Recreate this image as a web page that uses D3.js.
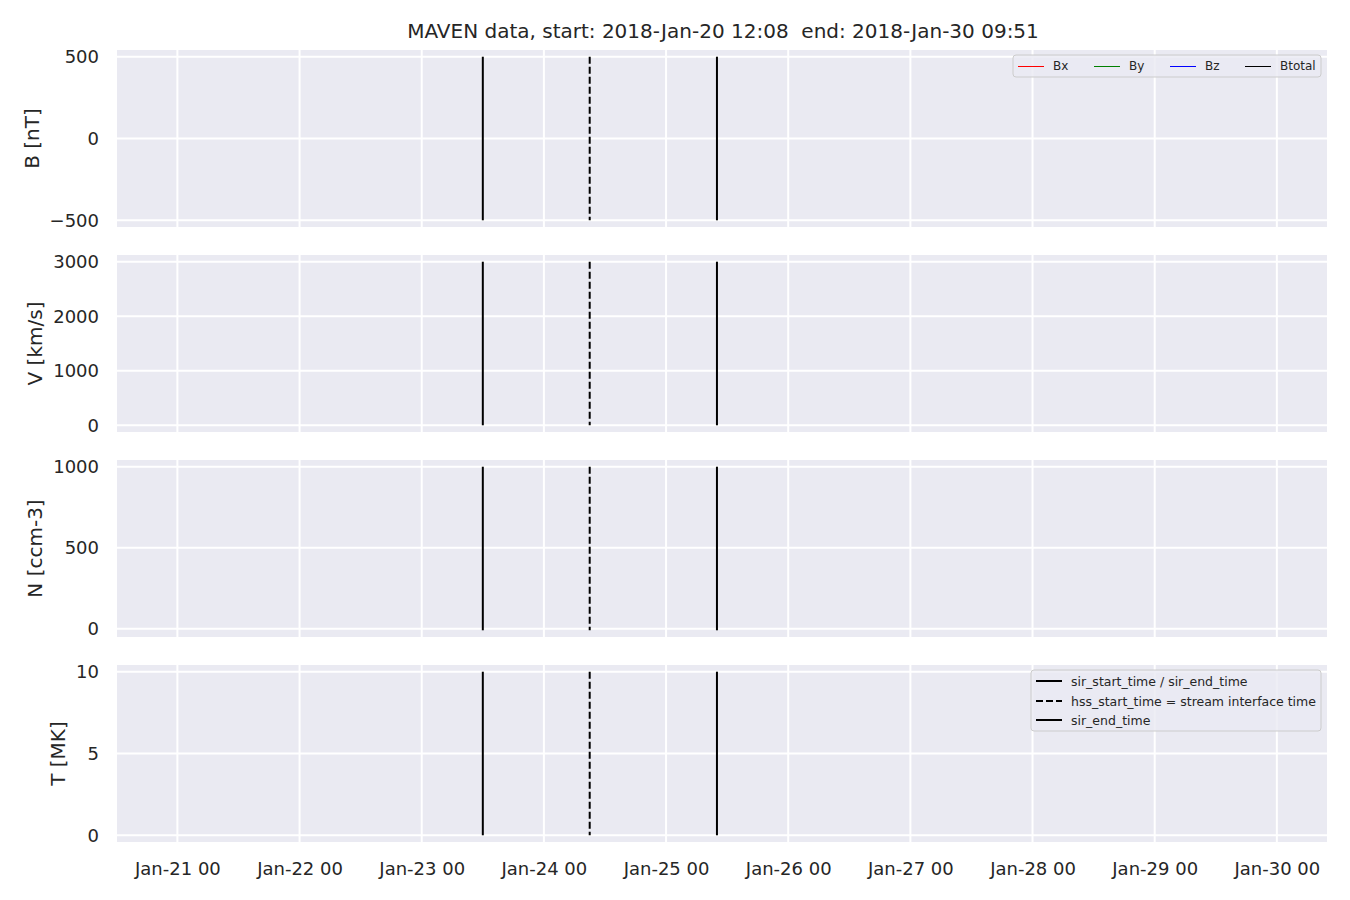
<!DOCTYPE html>
<html>
<head>
<meta charset="utf-8">
<script src="https://cdn.jsdelivr.net/npm/d3@7/dist/d3.min.js"></script>
<style>
body{margin:0;background:#fff;}
text{font-family:"DejaVu Sans",sans-serif;fill:#262626;white-space:pre;}
</style>
</head>
<body>
<svg id="chart" width="1350" height="900"></svg>
<script>
// ---- data ----
const titleText = "MAVEN data, start: 2018-Jan-20 12:08  end: 2018-Jan-30 09:51";
const startTime = "2018-01-20T12:08:00";
const endTime = "2018-01-30T09:51:00";
const panelLabels = ["B [nT]", "V [km/s]", "N [ccm-3]", "T [MK]"];
const panelTicks = [[-500, 0, 500], [0, 1000, 2000, 3000], [0, 500, 1000], [0, 5, 10]];
const lineMin = [-500, 0, -10, 0];
const lineMax = [500, 3000, 1000, 10];
const eventTimes = ["2018-01-23T12:00:00", "2018-01-24T09:00:00", "2018-01-25T10:00:00"];
const eventDashed = [false, true, false];
const xTickDates = ["2018-01-21","2018-01-22","2018-01-23","2018-01-24","2018-01-25","2018-01-26","2018-01-27","2018-01-28","2018-01-29","2018-01-30"];
const bLegendNames = ["Bx", "By", "Bz", "Btotal"];
const bLegendColors = ["#ff0000", "#008000", "#0000ff", "#000000"];
const eventLegendNames = ["sir_start_time / sir_end_time", "hss_start_time = stream interface time", "sir_end_time"];
const eventLegendDashed = [false, true, false];

// ---- layout ----
const svg = d3.select("#chart");
const left = 117, right = 1327;
const panelTops = [50, 255, 460, 665];
const panelH = 177;
const parse = d3.timeParse("%Y-%m-%dT%H:%M:%S");
const parseDay = d3.timeParse("%Y-%m-%d");
const x = d3.scaleTime().domain([parse(startTime), parse(endTime)]).range([left, right]);
const fmt = d3.timeFormat("%b-%d %H");

svg.append("text").attr("x", (left + right) / 2 + 1).attr("y", 38)
  .attr("text-anchor", "middle").attr("font-size", 20).attr("xml:space", "preserve").text(titleText);

panelLabels.forEach((lab, i) => {
  const top = panelTops[i];
  const lo = lineMin[i], hi = lineMax[i];
  const m = (hi - lo) * 0.041;
  const y = d3.scaleLinear().domain([lo - m, hi + m]).range([top + panelH, top]);
  const g = svg.append("g");
  g.append("rect").attr("x", left).attr("y", top).attr("width", right - left).attr("height", panelH).attr("fill", "#EAEAF2");
  // grid
  g.selectAll(".xg").data(xTickDates).enter().append("line")
    .attr("x1", d => x(parseDay(d))).attr("x2", d => x(parseDay(d)))
    .attr("y1", top).attr("y2", top + panelH).attr("stroke", "#fff").attr("stroke-width", 2);
  g.selectAll(".yg").data(panelTicks[i]).enter().append("line")
    .attr("x1", left).attr("x2", right).attr("y1", d => y(d)).attr("y2", d => y(d))
    .attr("stroke", "#fff").attr("stroke-width", 2);
  // y axis tick labels
  const ya = g.append("g").attr("transform", `translate(${left},0)`)
    .call(d3.axisLeft(y).tickValues(panelTicks[i]).tickSize(0).tickPadding(18).tickFormat(d => d < 0 ? "\u2212" + Math.abs(d) : String(d)));
  ya.select(".domain").remove();
  ya.selectAll("text").attr("font-size", 18).attr("font-family", "DejaVu Sans").attr("fill", "#262626");
  let minX = left;
  ya.selectAll("text").each(function(){ const b = this.getBBox(); minX = Math.min(minX, left + b.x); });
  // y label
  g.append("text").attr("transform", `translate(${minX - 11},${top + panelH / 2}) rotate(-90)`)
    .attr("text-anchor", "middle").attr("font-size", 20).text(lab);
  // event lines
  g.selectAll(".ev").data(eventTimes).enter().append("line")
    .attr("x1", d => x(parse(d))).attr("x2", d => x(parse(d)))
    .attr("y1", y(hi)).attr("y2", y(lo))
    .attr("stroke", "#000").attr("stroke-width", 2)
    .attr("stroke-dasharray", (d, k) => eventDashed[k] ? "7,3" : null);
  // x tick labels on last panel
  if (i === panelLabels.length - 1) {
    const xa = svg.append("g").attr("transform", `translate(0,${top + panelH})`)
      .call(d3.axisBottom(x).tickValues(xTickDates.map(parseDay)).tickSize(0).tickPadding(20).tickFormat(fmt));
    xa.select(".domain").remove();
    xa.selectAll("text").attr("font-size", 18).attr("font-family", "DejaVu Sans").attr("fill", "#262626");
  }
});

// B legend
(function(){
  const lg = svg.append("g");
  lg.append("rect").attr("x", 1013).attr("y", 55).attr("width", 308).attr("height", 22).attr("rx", 3)
    .attr("fill", "#EAEAF2").attr("fill-opacity", 0.8).attr("stroke", "#cccccc").attr("stroke-width", 1);
  const xs = [1018, 1094, 1170, 1245];
  bLegendNames.forEach((n, k) => {
    lg.append("line").attr("x1", xs[k]).attr("x2", xs[k] + 26).attr("y1", 66.5).attr("y2", 66.5)
      .attr("stroke", bLegendColors[k]).attr("stroke-width", 1);
    lg.append("text").attr("x", xs[k] + 35).attr("y", 70).attr("font-size", 12).text(n);
  });
})();

// event legend
(function(){
  const lg = svg.append("g");
  lg.append("rect").attr("x", 1031).attr("y", 670).attr("width", 290).attr("height", 61).attr("rx", 3)
    .attr("fill", "#EAEAF2").attr("fill-opacity", 0.8).attr("stroke", "#cccccc").attr("stroke-width", 1);
  const ys = [681, 701, 720];
  eventLegendNames.forEach((n, k) => {
    lg.append("line").attr("x1", 1036).attr("x2", 1062).attr("y1", ys[k]).attr("y2", ys[k])
      .attr("stroke", "#000").attr("stroke-width", 2)
      .attr("stroke-dasharray", eventLegendDashed[k] ? "7,3" : null);
    lg.append("text").attr("x", 1071).attr("y", ys[k] + 4.5).attr("font-size", 12.5).text(n);
  });
})();
</script>
</body>
</html>
